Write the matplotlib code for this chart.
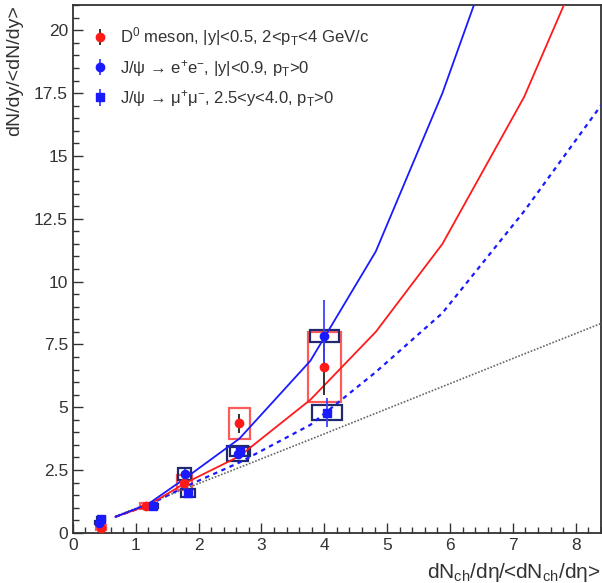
import matplotlib
matplotlib.use("Agg")
import matplotlib.pyplot as plt
from matplotlib.ticker import MultipleLocator, FormatStrFormatter

plt.rcParams["font.family"] = ["Liberation Sans", "DejaVu Sans"]
plt.rcParams["mathtext.fontset"] = "custom"
plt.rcParams["mathtext.rm"] = "Liberation Sans"
plt.rcParams["mathtext.it"] = "Liberation Sans:italic"
plt.rcParams["mathtext.bf"] = "Liberation Sans:bold"

TEXT = "#333333"
RED = "#ff1a1a"
BLUE = "#1a1aff"
NAVY = "#1f2a6e"

# D0 meson points
d0_x = [0.45, 1.17, 1.77, 2.65, 4.00]
d0_y = [0.20, 1.06, 2.00, 4.36, 6.60]
d0_err = [0.08, 0.08, 0.15, 0.38, 1.10]
d0_sys = [0.10, 0.12, 0.30, 0.62, 1.38]
d0_hw = [0.08, 0.10, 0.12, 0.17, 0.26]

# J/psi -> ee
ee_x = [0.42, 1.78, 2.62, 4.00]
ee_y = [0.40, 2.35, 3.15, 7.83]
ee_err = [0.08, 0.20, 0.15, 1.43]
ee_sys = [0.06, 0.25, 0.30, 0.24]
ee_hw = [0.06, 0.10, 0.17, 0.23]

# J/psi -> mumu
mm_x = [0.45, 1.28, 1.83, 2.66, 4.04]
mm_y = [0.55, 1.07, 1.60, 3.25, 4.78]
mm_err = [0.06, 0.08, 0.10, 0.15, 0.58]
mm_sys = [0.08, 0.08, 0.16, 0.18, 0.30]
mm_hw = [0.06, 0.08, 0.11, 0.16, 0.24]

# model curves
model_x = [0.68, 1.20, 1.78, 2.65, 3.78, 4.82, 5.88, 7.18, 8.40]
d0_model = [0.64, 1.10, 1.97, 3.05, 5.30, 8.00, 11.50, 17.35, 24.40]
ee_model = [0.64, 1.15, 2.16, 3.75, 6.85, 11.20, 17.50, 26.60, 35.00]
mm_model = [0.64, 1.10, 1.83, 2.80, 4.30, 6.40, 8.75, 12.80, 17.00]
linear = [0.66, 1.17, 1.75, 2.60, 3.72, 4.76, 5.82, 7.12, 8.33]

fig = plt.figure(figsize=(6.02, 5.83), dpi=100)
ax = fig.add_axes([0.121, 0.086, 0.877, 0.905])

# systematic boxes
ax.bar(d0_x, [2 * s for s in d0_sys], bottom=[y - s for y, s in zip(d0_y, d0_sys)],
       width=[2 * w for w in d0_hw], fill=False, edgecolor="#ff5a5a", linewidth=1.6, zorder=2)
ax.bar(ee_x, [2 * s for s in ee_sys], bottom=[y - s for y, s in zip(ee_y, ee_sys)],
       width=[2 * w for w in ee_hw], fill=False, edgecolor=NAVY, linewidth=1.6, zorder=2)
ax.bar(mm_x, [2 * s for s in mm_sys], bottom=[y - s for y, s in zip(mm_y, mm_sys)],
       width=[2 * w for w in mm_hw], fill=False, edgecolor=NAVY, linewidth=1.6, zorder=2)

# model curves
ax.plot(model_x, linear, color="#666666", linestyle=(0, (1, 1)), linewidth=1.2, zorder=3)
ax.plot(model_x, mm_model, color=BLUE, linestyle=(0, (2, 2)), linewidth=1.6, zorder=3)
ax.plot(model_x, d0_model, color=RED, linewidth=1.3, zorder=3)
ax.plot(model_x, ee_model, color=BLUE, linewidth=1.3, zorder=3)

# data points
h_d0 = ax.errorbar(d0_x, d0_y, yerr=d0_err, fmt="o", color=RED, ecolor="#222222",
                   markersize=6, elinewidth=1.3, capsize=0, zorder=5)
h_ee = ax.errorbar(ee_x, ee_y, yerr=ee_err, fmt="o", color=BLUE, ecolor="#4040ff",
                   markersize=6, elinewidth=1.3, capsize=0, zorder=5)
h_mm = ax.errorbar(mm_x, mm_y, yerr=mm_err, fmt="s", color=BLUE, ecolor="#4040ff",
                   markersize=6, elinewidth=1.3, capsize=0, zorder=5)

ax.legend([h_d0, h_ee, h_mm],
          [r"D$^{0}$ meson, |y|<0.5, 2<p$_{\mathrm{T}}$<4 GeV/c",
           r"J/ψ → e$^{+}$e$^{-}$, |y|<0.9, p$_{\mathrm{T}}$>0",
           r"J/ψ → μ$^{+}$μ$^{-}$, 2.5<y<4.0, p$_{\mathrm{T}}$>0"],
          loc="upper left", bbox_to_anchor=(0.007, 0.99), frameon=False,
          fontsize=12, handlelength=1.0, handletextpad=0.7, labelspacing=0.55,
          labelcolor=TEXT)

ax.set_xlim(0, 8.4)
ax.set_ylim(0, 21)
ax.xaxis.set_major_locator(MultipleLocator(1))
ax.xaxis.set_minor_locator(MultipleLocator(0.2))
ax.yaxis.set_major_locator(MultipleLocator(2.5))
ax.yaxis.set_minor_locator(MultipleLocator(0.5))
ax.yaxis.set_major_formatter(FormatStrFormatter("%g"))
ax.tick_params(which="both", direction="in", top=False, right=False,
               labelsize=12.5, labelcolor=TEXT, color="#333333", width=1)
ax.tick_params(which="major", length=7)
ax.tick_params(which="minor", length=4)
for sp in ax.spines.values():
    sp.set_color("#333333")
    sp.set_linewidth(1.3)

ax.set_xlabel("dN$_{\\mathrm{ch}}$/dη/<dN$_{\\mathrm{ch}}$/dη>", loc="right",
              fontsize=15, color=TEXT, labelpad=6)
ax.set_ylabel("dN/dy/<dN/dy>", loc="top", fontsize=14, color=TEXT, labelpad=8)

fig.savefig("out.png", dpi=100)
